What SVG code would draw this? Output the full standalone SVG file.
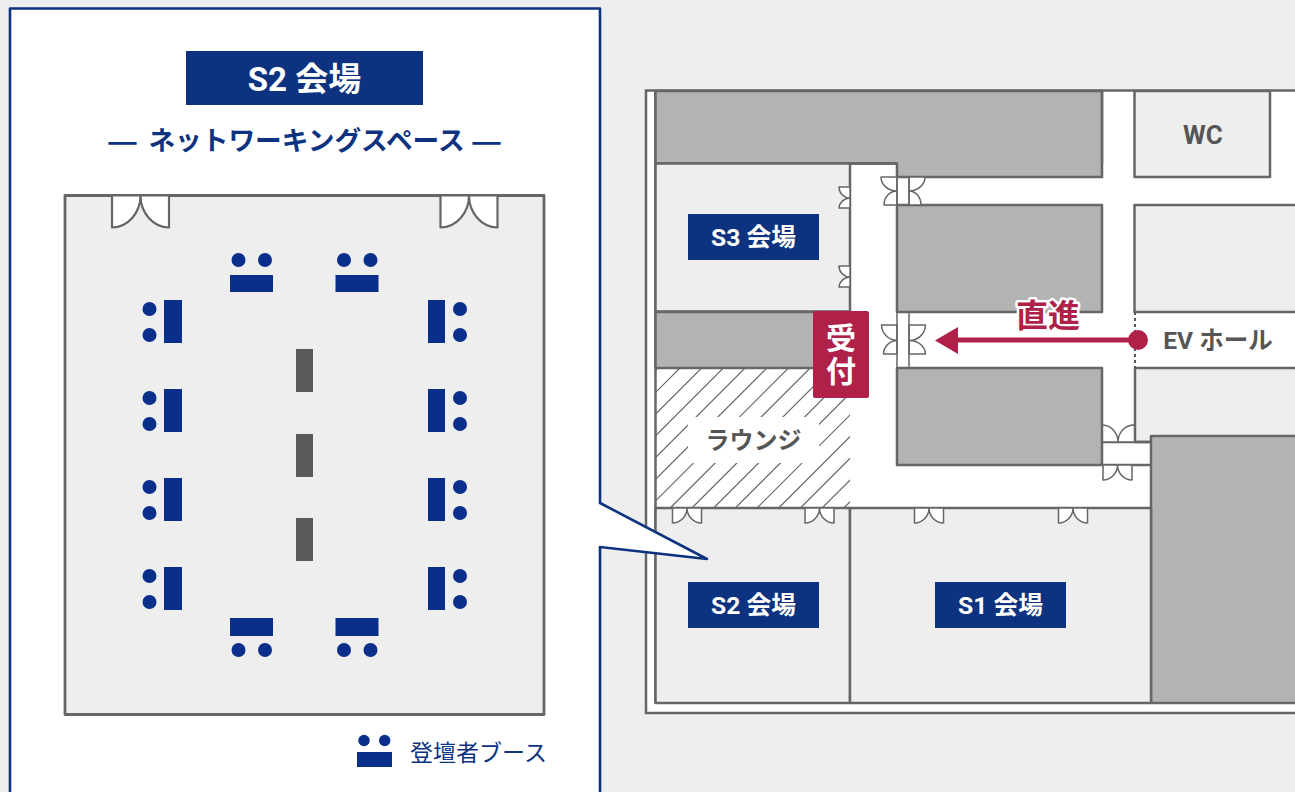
<svg xmlns="http://www.w3.org/2000/svg" xmlns:xlink="http://www.w3.org/1999/xlink" width="1295" height="792" viewBox="0 0 1295 792">
<style>
text{font-family:Roboto,"Noto Sans CJK JP",sans-serif;text-anchor:middle}
.w{fill:none;stroke:#666;stroke-width:2.500}
.room{fill:#eee;stroke:#666;stroke-width:2.500;stroke-linejoin:round}
.gr{fill:#b3b3b3;stroke:#666;stroke-width:2.500;stroke-linejoin:round}
.d{fill:#fff;stroke:#666;stroke-width:1.500;stroke-linejoin:round}
.dbig{fill:#fff;stroke:#666;stroke-width:2.200;stroke-linejoin:round}
.hl{fill:#0d3380}
.ltxt{fill:#fff;font-size:24.700px;font-weight:700}
.mtxt{fill:#555;font-size:24.500px;font-weight:700}
.sub{fill:#0d3380;font-family:"Noto Sans CJK JP",sans-serif}
.b{fill:#0a2f8a}
.pole{fill:#595959}
</style>
<defs>
<clipPath id="hc"><rect x="656" y="369" width="194" height="139"/></clipPath>
<path id="sd" d="M0 0V15A15 15 0 0 0 14.500 0ZM29 0V15A15 15 0 0 1 14.500 0Z"/>
<path id="sdl" d="M11 0H0A11 11 0 0 0 11 11A11 11 0 0 0 0 21H11Z"/>
<path id="bd" d="M0 0V32A29 32 0 0 0 28.500 0ZM57 0V32A29 32 0 0 1 28.500 0Z"/>
<g id="bh"><rect class="b" x="0" y="0" width="43" height="17"/><circle class="b" cx="8.500" cy="-15" r="7"/><circle class="b" cx="35" cy="-15" r="7"/></g>
<g id="bv"><rect class="b" x="0" y="0" width="18" height="43"/><circle class="b" cx="-14.500" cy="9" r="7"/><circle class="b" cx="-14.500" cy="35" r="7"/></g>
<g id="bvr"><rect class="b" x="0" y="0" width="17" height="43"/><circle class="b" cx="32" cy="9" r="7"/><circle class="b" cx="32" cy="35" r="7"/></g>
<g id="bb"><rect class="b" x="0" y="0" width="43" height="18"/><circle class="b" cx="8.500" cy="32" r="7"/><circle class="b" cx="35" cy="32" r="7"/></g>
</defs>
<rect width="1295" height="792" fill="#eee"/>
<g id="floor-plan">
<rect x="646" y="90.500" width="660" height="622.500" fill="#fff" stroke="#666" stroke-width="2.500"/>
<path class="w" d="M655.500 90V703"/>
<rect class="gr" x="655.500" y="91" width="446.500" height="72.500"/>
<rect x="898" y="162" width="203" height="15" fill="#b3b3b3"/>
<path class="w" d="M897 163V177H1102V90"/>
<rect class="room" x="655.500" y="163.500" width="194.500" height="148"/>
<path class="w" d="M850 163.500H897"/>
<rect class="gr" x="897" y="205" width="205" height="107"/>
<rect class="gr" x="655.500" y="312" width="190" height="56"/>
<rect class="gr" x="897" y="368" width="205" height="97"/>
<rect class="room" x="1134.500" y="91" width="135.500" height="86"/>
<rect class="room" x="1134.500" y="205" width="170" height="107"/>
<path class="room" d="M1135 368H1305V442H1135Z"/>
<rect class="gr" x="1151" y="436" width="154" height="267"/>
<path class="w" d="M1102 465H1151M1102 442H1151"/>
<g id="lounge">
<path clip-path="url(#hc)" fill="none" stroke="#666" stroke-width="1.200" d="M658 368L518 508M680 368L540 508M701.700 368L561.700 508M723.400 368L583.400 508M745.100 368L605.100 508M766.800 368L626.800 508M788.500 368L648.500 508M810.200 368L670.200 508M831.900 368L691.900 508M853.600 368L713.600 508M875.300 368L735.300 508M897 368L757 508M918.700 368L778.700 508M940.400 368L800.400 508M962.100 368L822.100 508M983.800 368L843.800 508"/>
<rect x="688" y="417" width="131" height="46" fill="#fff"/>
<text class="mtxt" x="753.500" y="449" style="font-size:24px">ラウンジ</text>
</g>
<rect class="room" x="655.500" y="508" width="194.500" height="195"/>
<rect class="room" x="850" y="508" width="301" height="195"/>
<g id="doors">
<use xlink:href="#sd" class="d" x="672.500" y="508"/>
<use xlink:href="#sd" class="d" x="805" y="508"/>
<use xlink:href="#sd" class="d" x="914.500" y="508"/>
<use xlink:href="#sd" class="d" x="1058.500" y="508"/>
<use xlink:href="#sd" class="d" x="1103" y="465"/>
<use xlink:href="#sdl" class="d" x="839" y="187"/>
<use xlink:href="#sdl" class="d" x="839" y="266"/>
<path class="d" d="M1102.500 425A16 17 0 0 1 1118 442H1102.500ZM1134.500 425A16 17 0 0 0 1118 442H1134.500Z"/>
<path class="d" d="M897 177H881A16 14 0 0 0 897 191A13 14 0 0 0 884 205H897ZM909 177H925A16 14 0 0 1 909 191A12 14 0 0 1 921 205H909Z"/>
<path class="d" d="M897 177V205M909 177V205"/>
<path class="d" d="M897 325H881.500A16 16 0 0 0 897 340.500A14 14 0 0 0 883.500 354H897ZM909 325H925.500A16 16 0 0 1 909 340.500A16 14 0 0 1 925.500 354H909Z"/>
<path class="d" d="M897 312V368M909 312V368"/>
</g>
<path d="M1135 312V368" fill="none" stroke="#555" stroke-width="2" stroke-dasharray="3 3"/>
<g id="room-labels">
<g id="s3"><rect class="hl" x="688" y="214" width="131" height="46"/><text class="ltxt" x="753.500" y="245.500">S3 会場</text></g>
<g id="s2"><rect class="hl" x="688" y="582" width="131" height="46"/><text class="ltxt" x="753.500" y="613.500">S2 会場</text></g>
<g id="s1"><rect class="hl" x="935" y="582" width="131" height="46"/><text class="ltxt" x="1000.500" y="613.500">S1 会場</text></g>
<text class="mtxt" x="1203" y="144" style="font-size:26px">WC</text>
<text class="mtxt" x="1218" y="349">EV ホール</text>
</g>
<g id="reception">
<rect x="813" y="311" width="56" height="87" rx="2" fill="#b0214a"/>
<text x="841" y="349" fill="#fff" font-size="30" font-weight="700">受</text>
<text x="841" y="382" fill="#fff" font-size="30" font-weight="700">付</text>
</g>
<g id="route">
<path d="M1138 340H955" fill="none" stroke="#b0214a" stroke-width="5"/>
<path d="M935 340.500L958 327V354Z" fill="#b0214a"/>
<circle cx="1138" cy="340" r="10" fill="#b0214a"/>
<text x="1048" y="327" fill="#b0214a" stroke="#fff" stroke-width="5" stroke-linejoin="round" paint-order="stroke" font-size="32" font-weight="700">直進</text>
</g>
</g>
<g id="panel">
<path d="M10 800V8.500H600V503L707 559L600 547V800Z" fill="#fff" stroke="#0d3380" stroke-width="2.600" stroke-linejoin="round"/>
<g id="panel-title">
<rect class="hl" x="186" y="51" width="237" height="54"/>
<text x="304.500" y="90.500" fill="#fff" font-size="33" font-weight="700">S2 会場</text>
<text class="sub" x="122.500" y="152.500" font-size="35" font-weight="500">—</text>
<text class="sub" x="306.500" y="150" font-size="26.700" font-weight="700">ネットワーキングスペース</text>
<text class="sub" x="486.500" y="152.500" font-size="35" font-weight="500">—</text>
</g>
<g id="hall">
<rect x="65" y="195.500" width="479" height="519" fill="#eee" stroke="#666" stroke-width="2.800" stroke-linejoin="round"/>
<use xlink:href="#bd" class="dbig" x="112" y="195.500"/>
<use xlink:href="#bd" class="dbig" x="440.500" y="195.500"/>
<g id="booths">
<use xlink:href="#bh" x="230" y="275"/>
<use xlink:href="#bh" x="335.500" y="275"/>
<use xlink:href="#bv" x="164" y="300"/>
<use xlink:href="#bv" x="164" y="389"/>
<use xlink:href="#bv" x="164" y="478"/>
<use xlink:href="#bv" x="164" y="567"/>
<use xlink:href="#bvr" x="428" y="300"/>
<use xlink:href="#bvr" x="428" y="389"/>
<use xlink:href="#bvr" x="428" y="478"/>
<use xlink:href="#bvr" x="428" y="567"/>
<use xlink:href="#bb" x="230" y="618"/>
<use xlink:href="#bb" x="335.500" y="618"/>
</g>
<g id="poles">
<rect class="pole" x="296" y="349" width="17" height="43"/>
<rect class="pole" x="296" y="434" width="17" height="43"/>
<rect class="pole" x="296" y="518" width="17" height="43"/>
</g>
</g>
<g id="legend">
<rect class="b" x="357" y="752" width="35" height="15"/>
<circle class="b" cx="364" cy="740.500" r="5.700"/>
<circle class="b" cx="384.700" cy="740.500" r="5.700"/>
<text x="478.500" y="761" fill="#0d3380" font-size="23" font-weight="400">登壇者ブース</text>
</g>
</g>
</svg>
